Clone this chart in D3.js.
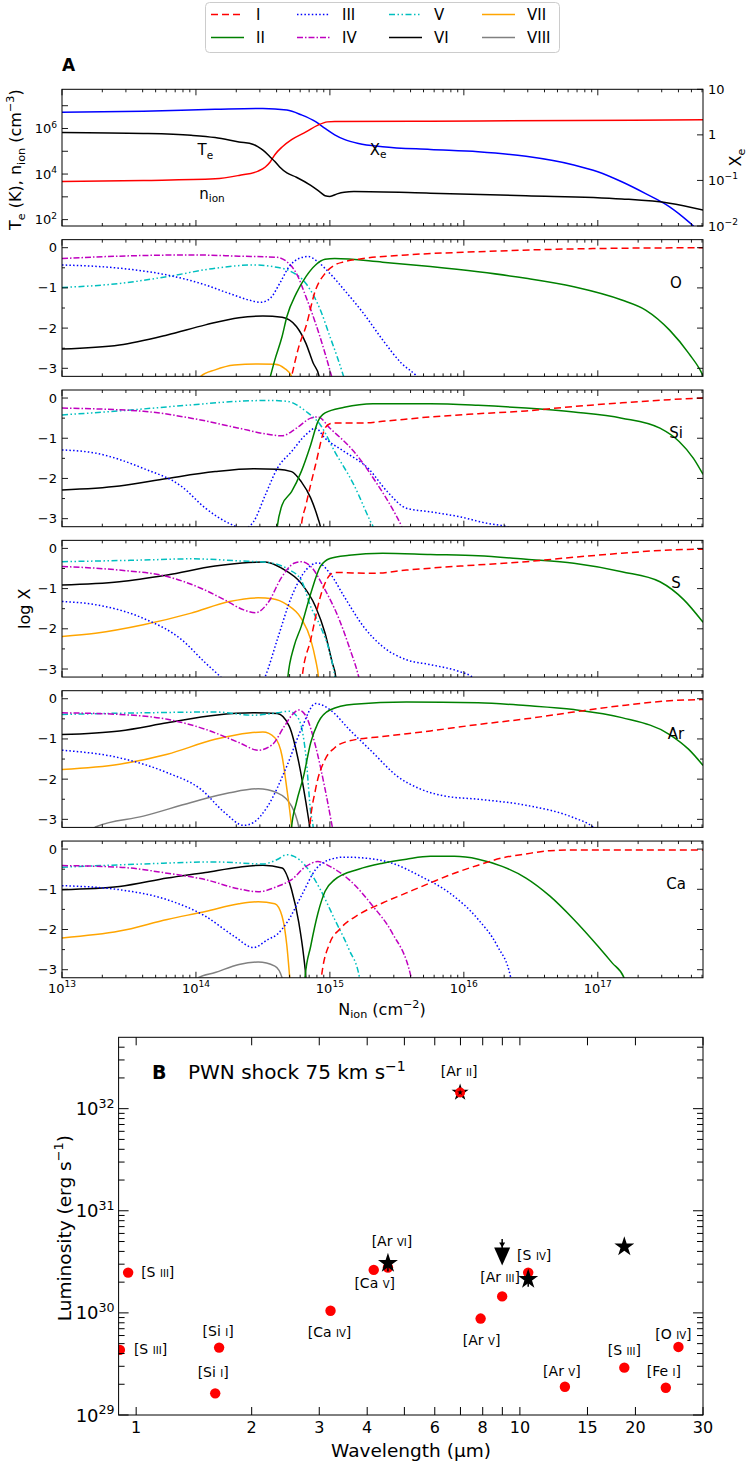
<!DOCTYPE html>
<html><head><meta charset="utf-8">
<script src="https://cdn.jsdelivr.net/npm/d3@7"></script>
<style>body{margin:0;background:#fff}svg{display:block}</style>
</head><body>
<svg id="c" width="748" height="1465"></svg>
<script>
// ================= DATA =================
// Panel A : [log10 N_ion (cm^-2), log10 value]
const A_Te = [[13.0,5.82],[13.607,5.78],[13.964,5.70],[14.143,5.60],[14.321,5.41],[14.429,5.30],[14.464,5.19],[14.5,5.05],[14.554,4.75],[14.589,4.55],[14.625,4.31],[14.679,4.05],[14.75,3.86],[14.857,3.50],[14.929,3.20],[14.964,3.05],[15.0,3.02],[15.054,3.13],[15.107,3.20],[15.179,3.23],[15.75,3.16],[16.464,3.05],[17.179,2.91],[17.536,2.72],[17.786,2.42]];
const A_nion = [[13.0,3.67],[13.607,3.72],[14.143,3.79],[14.321,3.94],[14.464,4.13],[14.518,4.31],[14.554,4.53],[14.589,4.85],[14.643,5.19],[14.714,5.51],[14.821,5.85],[14.911,6.15],[14.982,6.29],[15.036,6.31],[15.75,6.32],[16.821,6.35],[17.786,6.38]];
const A_Xe = [[13.0,0.495],[13.607,0.52],[14.143,0.56],[14.5,0.58],[14.679,0.545],[14.786,0.44],[14.893,0.29],[14.964,0.14],[15.036,0.0],[15.107,-0.10],[15.214,-0.19],[15.393,-0.26],[15.75,-0.32],[16.107,-0.37],[16.464,-0.47],[16.821,-0.66],[17.0,-0.81],[17.179,-1.03],[17.357,-1.29],[17.536,-1.58],[17.679,-1.91],[17.75,-2.1]];

// Ionisation fractions: [log10 N_ion, log10 X]
const O_I = [[14.70,-3.4],[14.714,-3.2],[14.768,-2.46],[14.821,-1.96],[14.893,-1.05],[14.964,-0.64],[15.036,-0.43],[15.107,-0.35],[15.25,-0.27],[15.571,-0.18],[16.107,-0.10],[16.821,-0.03],[17.786,0.0]];
const O_II = [[14.54,-3.4],[14.589,-2.79],[14.643,-2.21],[14.679,-1.71],[14.75,-1.13],[14.821,-0.72],[14.893,-0.43],[14.964,-0.29],[15.036,-0.27],[15.393,-0.36],[15.75,-0.47],[16.107,-0.60],[16.464,-0.76],[16.821,-0.97],[17.179,-1.30],[17.357,-1.55],[17.536,-2.05],[17.679,-2.63],[17.779,-3.14],[17.8,-3.3]];
const O_III = [[13.0,-0.43],[13.429,-0.51],[13.786,-0.68],[14.036,-0.89],[14.25,-1.14],[14.393,-1.30],[14.482,-1.36],[14.554,-1.26],[14.625,-0.89],[14.696,-0.47],[14.768,-0.27],[14.839,-0.22],[14.893,-0.31],[15.0,-0.64],[15.107,-1.05],[15.25,-1.63],[15.393,-2.29],[15.536,-2.88],[15.643,-3.18],[15.7,-3.4]];
const O_IV = [[13.0,-0.27],[13.429,-0.21],[13.964,-0.18],[14.321,-0.21],[14.607,-0.24],[14.679,-0.35],[14.75,-0.64],[14.821,-1.22],[14.893,-1.88],[14.964,-2.63],[15.011,-3.18],[15.03,-3.4]];
const O_V = [[13.0,-0.99],[13.429,-0.89],[13.786,-0.72],[14.143,-0.51],[14.429,-0.43],[14.571,-0.47],[14.714,-0.60],[14.821,-0.89],[14.929,-1.55],[15.0,-2.21],[15.054,-2.71],[15.1,-3.18],[15.12,-3.4]];
const O_VI = [[13.0,-2.52],[13.429,-2.42],[13.786,-2.17],[14.071,-1.92],[14.321,-1.74],[14.5,-1.70],[14.643,-1.73],[14.75,-1.96],[14.821,-2.38],[14.875,-2.87],[14.918,-3.18],[14.93,-3.4]];
const O_VII = [[14.0,-3.4],[14.036,-3.2],[14.143,-3.04],[14.286,-2.92],[14.464,-2.89],[14.589,-2.90],[14.661,-3.0],[14.714,-3.2],[14.73,-3.4]];

const Si_I = [[14.78,-3.4],[14.786,-3.2],[14.821,-2.66],[14.893,-1.66],[14.964,-0.75],[15.0,-0.64],[15.036,-0.62],[15.25,-0.62],[15.393,-0.58],[15.75,-0.47],[16.107,-0.39],[16.464,-0.32],[16.821,-0.21],[17.179,-0.12],[17.536,-0.04],[17.786,0.0]];
const Si_II = [[14.6,-3.4],[14.607,-3.2],[14.643,-2.66],[14.714,-2.33],[14.786,-1.83],[14.857,-1.16],[14.911,-0.58],[14.964,-0.37],[15.107,-0.23],[15.321,-0.14],[15.75,-0.14],[16.107,-0.18],[16.464,-0.25],[16.821,-0.35],[17.179,-0.50],[17.464,-0.75],[17.607,-1.08],[17.714,-1.50],[17.786,-1.90]];
const Si_III = [[13.0,-1.29],[13.25,-1.37],[13.607,-1.75],[13.893,-2.20],[14.071,-2.74],[14.25,-3.12],[14.357,-3.25],[14.429,-3.08],[14.518,-2.41],[14.607,-1.75],[14.714,-1.33],[14.821,-0.91],[14.893,-0.75],[14.964,-1.0],[15.107,-1.33],[15.286,-1.75],[15.429,-2.33],[15.571,-2.74],[15.75,-2.83],[15.964,-2.95],[16.179,-3.12],[16.321,-3.2],[16.4,-3.3]];
const Si_IV = [[13.0,-0.25],[13.607,-0.33],[13.964,-0.50],[14.321,-0.75],[14.536,-0.90],[14.643,-0.94],[14.75,-0.75],[14.857,-0.50],[14.911,-0.47],[15.0,-0.75],[15.179,-1.33],[15.357,-2.16],[15.464,-2.74],[15.536,-3.2],[15.56,-3.4]];
const Si_V = [[13.0,-0.42],[13.429,-0.32],[13.964,-0.17],[14.321,-0.08],[14.536,-0.06],[14.679,-0.08],[14.821,-0.33],[14.929,-0.67],[15.036,-1.33],[15.179,-2.16],[15.304,-3.08],[15.321,-3.2],[15.33,-3.4]];
const Si_VI = [[13.0,-2.29],[13.429,-2.19],[13.786,-2.0],[14.143,-1.83],[14.429,-1.76],[14.607,-1.77],[14.714,-1.83],[14.786,-2.08],[14.857,-2.49],[14.911,-2.99],[14.929,-3.2],[14.94,-3.4]];

const S_I = [[14.79,-3.4],[14.793,-3.2],[14.857,-2.27],[14.929,-1.2],[15.0,-0.66],[15.036,-0.60],[15.321,-0.62],[15.571,-0.54],[16.107,-0.41],[16.464,-0.33],[16.821,-0.22],[17.179,-0.12],[17.536,-0.04],[17.786,-0.02]];
const S_II = [[14.68,-3.4],[14.686,-3.2],[14.732,-2.44],[14.786,-1.94],[14.857,-1.12],[14.929,-0.45],[15.0,-0.25],[15.143,-0.17],[15.393,-0.12],[15.75,-0.15],[16.107,-0.18],[16.464,-0.27],[16.821,-0.37],[17.179,-0.58],[17.464,-0.83],[17.643,-1.28],[17.786,-1.84]];
const S_III = [[13.0,-1.32],[13.25,-1.40],[13.607,-1.74],[13.893,-2.27],[14.071,-2.85],[14.179,-3.18],[14.3,-3.6],[14.45,-3.6],[14.518,-3.18],[14.607,-2.27],[14.714,-1.2],[14.821,-0.54],[14.911,-0.36],[15.0,-0.62],[15.107,-1.2],[15.25,-1.94],[15.393,-2.44],[15.571,-2.77],[15.75,-2.89],[15.964,-3.06],[16.054,-3.18],[16.1,-3.3]];
const S_IV = [[13.0,-0.45],[13.429,-0.54],[13.786,-0.70],[14.036,-0.99],[14.214,-1.28],[14.357,-1.53],[14.446,-1.60],[14.536,-1.36],[14.643,-0.70],[14.732,-0.37],[14.786,-0.33],[14.857,-0.45],[14.964,-1.03],[15.071,-1.78],[15.143,-2.44],[15.214,-3.18],[15.23,-3.4]];
const S_V = [[13.0,-0.33],[13.607,-0.29],[13.964,-0.26],[14.321,-0.31],[14.536,-0.35],[14.679,-0.50],[14.786,-0.79],[14.857,-1.45],[14.929,-1.94],[15.0,-2.60],[15.036,-3.18],[15.045,-3.4]];
const S_VI = [[13.0,-0.91],[13.429,-0.83],[13.786,-0.66],[14.143,-0.44],[14.393,-0.35],[14.518,-0.34],[14.643,-0.50],[14.786,-0.87],[14.893,-1.45],[14.964,-2.11],[15.018,-2.85],[15.043,-3.18],[15.05,-3.4]];
const S_VII = [[13.0,-2.19],[13.25,-2.11],[13.607,-1.90],[13.964,-1.61],[14.25,-1.32],[14.464,-1.23],[14.571,-1.25],[14.679,-1.40],[14.786,-1.74],[14.857,-2.27],[14.893,-2.77],[14.914,-3.18],[14.92,-3.4]];

const Ar_I = [[14.845,-3.4],[14.85,-3.19],[14.893,-2.25],[14.964,-1.51],[15.036,-1.22],[15.143,-1.05],[15.393,-0.94],[15.75,-0.80],[16.107,-0.64],[16.464,-0.50],[16.821,-0.33],[17.179,-0.17],[17.536,-0.05],[17.786,-0.02]];
const Ar_II = [[14.71,-3.4],[14.714,-3.19],[14.75,-2.58],[14.804,-1.92],[14.857,-1.09],[14.911,-0.60],[15.0,-0.28],[15.179,-0.14],[15.571,-0.08],[16.107,-0.10],[16.464,-0.17],[16.821,-0.27],[17.179,-0.47],[17.536,-0.89],[17.679,-1.26],[17.786,-1.66]];
const Ar_III = [[13.0,-1.28],[13.429,-1.47],[13.786,-1.84],[14.036,-2.25],[14.214,-2.83],[14.357,-3.15],[14.429,-3.08],[14.536,-2.67],[14.679,-1.67],[14.786,-0.76],[14.893,-0.12],[15.0,-0.27],[15.143,-0.76],[15.321,-1.34],[15.5,-1.92],[15.679,-2.25],[15.857,-2.42],[16.107,-2.50],[16.464,-2.65],[16.821,-2.96],[16.964,-3.19],[17.0,-3.3]];
const Ar_IV = [[13.0,-0.35],[13.429,-0.39],[13.786,-0.51],[14.071,-0.76],[14.321,-1.09],[14.464,-1.28],[14.571,-1.14],[14.661,-0.68],[14.732,-0.35],[14.768,-0.28],[14.821,-0.43],[14.893,-1.18],[14.964,-2.25],[15.018,-3.19],[15.03,-3.4]];
const Ar_V = [[13.0,-0.39],[13.607,-0.35],[14.143,-0.33],[14.429,-0.41],[14.607,-0.35],[14.696,-0.31],[14.768,-0.51],[14.821,-1.43],[14.857,-2.83],[14.875,-3.19],[14.88,-3.4]];
const Ar_VI = [[13.0,-0.89],[13.429,-0.80],[13.786,-0.60],[14.143,-0.41],[14.429,-0.35],[14.607,-0.37],[14.696,-0.68],[14.768,-1.59],[14.821,-2.58],[14.85,-3.19],[14.86,-3.4]];
const Ar_VII = [[13.0,-1.76],[13.429,-1.63],[13.786,-1.38],[14.143,-1.01],[14.393,-0.85],[14.5,-0.83],[14.589,-0.97],[14.643,-1.43],[14.679,-2.25],[14.714,-3.19],[14.72,-3.4]];
const Ar_VIII = [[13.2,-3.4],[13.25,-3.19],[13.607,-2.92],[13.964,-2.58],[14.25,-2.34],[14.464,-2.24],[14.607,-2.34],[14.714,-2.67],[14.768,-3.19],[14.78,-3.4]];

const Ca_I = [[14.93,-3.4],[14.936,-3.2],[15.0,-2.33],[15.071,-2.0],[15.214,-1.63],[15.393,-1.34],[15.571,-1.09],[15.75,-0.84],[15.929,-0.60],[16.107,-0.40],[16.286,-0.22],[16.464,-0.12],[16.643,-0.04],[16.821,-0.02],[17.786,-0.02]];
const Ca_II = [[14.81,-3.4],[14.814,-3.2],[14.857,-2.41],[14.911,-1.59],[14.964,-1.05],[15.036,-0.76],[15.214,-0.50],[15.393,-0.35],[15.571,-0.25],[15.75,-0.18],[15.929,-0.18],[16.107,-0.25],[16.286,-0.43],[16.464,-0.72],[16.643,-1.17],[16.821,-1.75],[17.0,-2.41],[17.107,-2.83],[17.196,-3.2],[17.21,-3.4]];
const Ca_III = [[13.0,-0.91],[13.429,-1.01],[13.786,-1.26],[14.071,-1.67],[14.286,-2.17],[14.429,-2.45],[14.536,-2.25],[14.607,-2.12],[14.679,-1.83],[14.786,-1.17],[14.893,-0.51],[15.0,-0.26],[15.107,-0.20],[15.25,-0.22],[15.464,-0.35],[15.679,-0.68],[15.893,-1.09],[16.107,-1.75],[16.25,-2.41],[16.35,-3.2],[16.36,-3.4]];
const Ca_IV = [[13.0,-0.41],[13.429,-0.45],[13.786,-0.60],[14.071,-0.76],[14.321,-0.99],[14.464,-1.06],[14.607,-0.93],[14.714,-0.76],[14.821,-0.43],[14.911,-0.31],[15.0,-0.43],[15.143,-0.76],[15.321,-1.42],[15.464,-2.08],[15.607,-3.2],[15.62,-3.4]];
const Ca_V = [[13.0,-0.45],[13.607,-0.37],[14.143,-0.32],[14.5,-0.37],[14.607,-0.26],[14.679,-0.14],[14.732,-0.18],[14.821,-0.43],[14.929,-1.01],[15.036,-1.75],[15.143,-2.50],[15.221,-3.2],[15.23,-3.4]];
const Ca_VI = [[13.0,-1.01],[13.429,-0.93],[13.786,-0.72],[14.071,-0.58],[14.321,-0.45],[14.5,-0.40],[14.643,-0.47],[14.714,-1.01],[14.768,-1.83],[14.804,-2.66],[14.821,-3.2],[14.825,-3.4]];
const Ca_VII = [[13.0,-2.21],[13.429,-2.04],[13.786,-1.75],[14.071,-1.55],[14.321,-1.36],[14.464,-1.31],[14.589,-1.36],[14.643,-1.67],[14.679,-2.41],[14.70,-3.2],[14.705,-3.4]];
const Ca_VIII = [[13.99,-3.4],[14.018,-3.2],[14.143,-3.07],[14.321,-2.87],[14.464,-2.81],[14.589,-2.91],[14.643,-3.2],[14.65,-3.4]];

const ions = ['I','II','III','IV','V','VI','VII','VIII'];
const elements = ['O','Si','S','Ar','Ca'];
const panelData = {
  O:  {I:O_I, II:O_II, III:O_III, IV:O_IV, V:O_V, VI:O_VI, VII:O_VII},
  Si: {I:Si_I, II:Si_II, III:Si_III, IV:Si_IV, V:Si_V, VI:Si_VI},
  S:  {I:S_I, II:S_II, III:S_III, IV:S_IV, V:S_V, VI:S_VI, VII:S_VII},
  Ar: {I:Ar_I, II:Ar_II, III:Ar_III, IV:Ar_IV, V:Ar_V, VI:Ar_VI, VII:Ar_VII, VIII:Ar_VIII},
  Ca: {I:Ca_I, II:Ca_II, III:Ca_III, IV:Ca_IV, V:Ca_V, VI:Ca_VI, VII:Ca_VII, VIII:Ca_VIII}
};
const logXTicks = [0, -1, -2, -3];

// Panel B : wavelength (micron) and luminosity (erg/s)
const modelWave  = [0.907, 0.953, 1.607, 1.645, 3.21, 4.16, 4.53, 7.90, 8.99, 10.51, 13.10, 18.71, 24.0, 25.89];
const modelLum   = [4.34e29, 2.48e30, 1.63e29, 4.57e29, 1.05e30, 2.64e30, 2.78e30, 8.8e29, 1.45e30, 2.48e30, 1.89e29, 2.91e29, 1.85e29, 4.64e29];
const modelLabel = ['[S III]','[S III]','[Si I]','[Si I]','[Ca IV]','[Ca V]','','[Ar V]','[Ar III]','[S IV]','[Ar V]','[S III]','[Fe I]','[O IV]'];
const obsWave  = [4.53, 6.985, 10.51, 18.71];
const obsLum   = [3.07e30, 1.44e32, 2.14e30, 4.44e30];
const obsLo    = [2.55e30, null, 1.80e30, null];
const obsHi    = [3.60e30, null, 2.55e30, null];
const obsLabel = ['[Ar VI]', '[Ar II]', '', ''];
const arIIModelLum = 1.44e32;
const limWave = [8.99];
const limLum  = [3.56e30];
const limTop  = [5.3e30];
const xbTickLabels = [1, 2, 3, 4, 6, 8, 10, 15, 20, 30];
const xbTickNoLabel = [5, 7, 9];

// ================= DRAWING =================
const svg = d3.select('#c');
const FONT = 'DejaVu Sans, Verdana, sans-serif';
const col = {I:'#ff0000', II:'#008000', III:'#0000ff', IV:'#bf00bf', V:'#00bfbf', VI:'#000000', VII:'#ffa500', VIII:'#808080'};
const dash = {I:'7,4', III:'1.5,2.2', IV:'6,2,1.5,2', V:'6,2.5,1.5,2.5,1.5,2.5'};

function rich(g, x, y, parts, o) {
  const size = o.size;
  const t = g.append('text').attr('x', x).attr('y', y)
    .attr('font-family', FONT).attr('font-size', size)
    .attr('text-anchor', o.anchor || 'start').attr('fill', '#000');
  if (o.weight) t.attr('font-weight', o.weight);
  if (o.rotate) t.attr('transform', `rotate(${o.rotate},${x},${y})`);
  let shift = 0;
  parts.forEach(([s, kind]) => {
    let target = 0, fs = size;
    if (kind === 'sup') { target = -size * 0.42; fs = size * 0.7; }
    else if (kind === 'sub') { target = size * 0.22; fs = size * 0.7; }
    else if (kind === 'sc') { fs = size * 0.72; }
    t.append('tspan').attr('font-size', fs).attr('dy', target - shift).text(s);
    shift = target;
  });
  return t;
}
function ln(g, x1, y1, x2, y2, w) {
  g.append('line').attr('x1', x1).attr('y1', y1).attr('x2', x2).attr('y2', y2)
    .attr('stroke', '#000').attr('stroke-width', w || 1);
}

const L = 62, R = 703, TOP0 = 89.3, STEP = 150.35, H = 136.7;
const xDom = [1e13, 6.1e17];
const x = d3.scaleLog().domain(xDom).range([L, R]);

function xTicks(g, top, bottom) {
  for (let e = 13; e <= 17; e++) {
    for (let k = 1; k <= 9; k++) {
      const v = k * Math.pow(10, e);
      if (v > xDom[1]) continue;
      const px = x(v), len = k === 1 ? 6 : 3;
      ln(g, px, bottom, px, bottom - len, 0.9);
      ln(g, px, top, px, top + len, 0.9);
    }
  }
}

// ---------- Legend ----------
const leg = svg.append('g');
leg.append('rect').attr('x', 205.5).attr('y', 2.5).attr('width', 354).attr('height', 50).attr('rx', 4)
  .attr('fill', '#fff').attr('stroke', '#cccccc').attr('stroke-width', 1);
const legCols = [211, 297, 389, 482];
ions.forEach((ion, i) => {
  const cx = legCols[Math.floor(i / 2)], cy = i % 2 === 0 ? 14.5 : 37.5;
  leg.append('line').attr('x1', cx).attr('x2', cx + 33).attr('y1', cy).attr('y2', cy)
    .attr('stroke', col[ion]).attr('stroke-width', 1.6).attr('stroke-dasharray', dash[ion] || null);
  leg.append('text').attr('x', cx + 45).attr('y', cy + 5.5).attr('font-family', FONT).attr('font-size', 15).text(ion);
});

// ---------- Panel A ----------
const gA = svg.append('g');
const aTop = TOP0, aBot = TOP0 + H;
const yA = d3.scaleLog().domain([Math.pow(10, 1.72), Math.pow(10, 7.72)]).range([aBot, aTop]);
const yX = d3.scaleLog().domain([0.01, 10]).range([aBot, aTop]);
gA.append('clipPath').attr('id', 'clipA').append('rect').attr('x', L).attr('y', aTop).attr('width', R - L).attr('height', H);
const lineA = (ys) => d3.line().x(d => x(Math.pow(10, d[0]))).y(d => ys(Math.pow(10, d[1]))).curve(d3.curveMonotoneX);
const gAc = gA.append('g').attr('clip-path', 'url(#clipA)');
gAc.append('path').attr('d', lineA(yX)(A_Xe)).attr('fill', 'none').attr('stroke', '#0000ff').attr('stroke-width', 1.5);
gAc.append('path').attr('d', lineA(yA)(A_nion)).attr('fill', 'none').attr('stroke', '#ff0000').attr('stroke-width', 1.5);
gAc.append('path').attr('d', lineA(yA)(A_Te)).attr('fill', 'none').attr('stroke', '#000').attr('stroke-width', 1.5);
gA.append('rect').attr('x', L).attr('y', aTop).attr('width', R - L).attr('height', H).attr('fill', 'none').attr('stroke', '#000').attr('stroke-width', 1);
xTicks(gA, aTop, aBot);
for (let e = 2; e <= 7; e++) {
  const py = yA(Math.pow(10, e));
  ln(gA, L, py, L + 6, py, 0.9);
  if (e % 2 === 0) rich(gA, L - 5, py + 4.5, [['10'], [String(e), 'sup']], {size: 13, anchor: 'end'});
}
[[-2, [['10'], ['−2', 'sup']]], [-1, [['10'], ['−1', 'sup']]], [0, [['1']]], [1, [['10']]]].forEach(([e, parts]) => {
  const py = yX(Math.pow(10, e));
  ln(gA, R, py, R - 6, py, 0.9);
  rich(gA, R + 5, py + 4.5, parts, {size: 13});
});
rich(gA, 62, 71, [['A']], {size: 17, weight: 'bold'});
rich(gA, 21, aTop + H / 2 + 2, [['T'], ['e', 'sub'], [' (K), n'], ['ion', 'sub'], [' (cm'], ['−3', 'sup'], [')']], {size: 16, anchor: 'middle', rotate: -90});
rich(gA, 741, aTop + H / 2, [['X'], ['e', 'sub']], {size: 16, anchor: 'middle', rotate: -90});
rich(gA, x(Math.pow(10, 14.07)), yA(Math.pow(10, 5.04)) + 5, [['T'], ['e', 'sub']], {size: 15, anchor: 'middle'});
rich(gA, x(Math.pow(10, 14.12)), yA(Math.pow(10, 3.13)) + 5, [['n'], ['ion', 'sub']], {size: 15, anchor: 'middle'});
rich(gA, x(Math.pow(10, 15.36)), yX(Math.pow(10, -0.33)) + 5, [['X'], ['e', 'sub']], {size: 15, anchor: 'middle'});

// ---------- Element panels ----------
elements.forEach((el, i) => {
  const top = TOP0 + STEP * (i + 1), bot = top + H;
  const y = d3.scaleLinear().domain([-3.2, 0.2]).range([bot, top]);
  const g = svg.append('g');
  const cid = 'clip' + el;
  g.append('clipPath').attr('id', cid).append('rect').attr('x', L).attr('y', top).attr('width', R - L).attr('height', H);
  const gc = g.append('g').attr('clip-path', `url(#${cid})`);
  const line = d3.line().x(d => x(Math.pow(10, d[0]))).y(d => y(d[1])).curve(d3.curveMonotoneX);
  const order = ['VIII', 'VII', 'VI', 'V', 'IV', 'III', 'II', 'I'];
  order.forEach(ion => {
    const d = panelData[el][ion];
    if (!d) return;
    gc.append('path').attr('d', line(d)).attr('fill', 'none').attr('stroke', col[ion])
      .attr('stroke-width', 1.5).attr('stroke-dasharray', dash[ion] || null);
  });
  g.append('rect').attr('x', L).attr('y', top).attr('width', R - L).attr('height', H).attr('fill', 'none').attr('stroke', '#000').attr('stroke-width', 1);
  xTicks(g, top, bot);
  [-3, -2.5, -2, -1.5, -1, -0.5, 0].forEach(v => {
    const major = Number.isInteger(v), len = major ? 6 : 3, py = y(v);
    ln(g, L, py, L + len, py, 0.9);
    ln(g, R, py, R - len, py, 0.9);
  });
  logXTicks.forEach(v => {
    rich(g, L - 5, y(v) + 4.5, [[v === 0 ? '0' : '−' + Math.abs(v)]], {size: 13, anchor: 'end'});
  });
  rich(g, 676, top + 48, [[el]], {size: 15, anchor: 'middle'});
  if (i === elements.length - 1) {
    for (let e = 13; e <= 17; e++) rich(g, x(Math.pow(10, e)), bot + 15, [['10'], [String(e), 'sup']], {size: 13, anchor: 'middle'});
    rich(g, 382, bot + 37, [['N'], ['ion', 'sub'], [' (cm'], ['−2', 'sup'], [')']], {size: 16, anchor: 'middle'});
  }
});
rich(svg, 30, (TOP0 + STEP) + (STEP * 4 + H) / 2, [['log X']], {size: 16, anchor: 'middle', rotate: -90});

// ---------- Panel B ----------
const bL = 118.6, bR = 703, bT = 1037.3, bB = 1415;
const xb = d3.scaleLog().domain([0.9, 30]).range([bL, bR]);
const yb = d3.scaleLog().domain([1e29, 5e32]).range([bB, bT]);
const gB = svg.append('g');
gB.append('clipPath').attr('id', 'clipB').append('rect').attr('x', bL).attr('y', bT).attr('width', bR - bL).attr('height', bB - bT);
const gBc = gB.append('g').attr('clip-path', 'url(#clipB)');
gB.append('rect').attr('x', bL).attr('y', bT).attr('width', bR - bL).attr('height', bB - bT).attr('fill', 'none').attr('stroke', '#000').attr('stroke-width', 1);
xbTickLabels.concat(xbTickNoLabel).forEach(v => {
  const px = xb(v);
  ln(gB, px, bB, px, bB - 8, 1);
  ln(gB, px, bT, px, bT + 8, 1);
});
xbTickLabels.forEach(v => rich(gB, xb(v), bB + 18, [[String(v)]], {size: 16, anchor: 'middle'}));
for (let e = 29; e <= 32; e++) {
  for (let k = 1; k <= 9; k++) {
    const v = k * Math.pow(10, e);
    if (v > 5e32) continue;
    const py = yb(v), len = k === 1 ? 10 : 6;
    ln(gB, bL, py, bL + len, py, 1);
    ln(gB, bR, py, bR - len, py, 1);
  }
  rich(gB, bL - 4, yb(Math.pow(10, e)) + 6.5, [['10'], [String(e), 'sup']], {size: 18, anchor: 'end'});
}
rich(gB, 411, 1457, [['Wavelength ('], ['μ'], ['m)']], {size: 18.5, anchor: 'middle'});
rich(gB, 71, (bT + bB) / 2 + 2, [['Luminosity (erg s'], ['−1', 'sup'], [')']], {size: 18.5, anchor: 'middle', rotate: -90});
rich(gB, 152, 1079, [['B']], {size: 19, weight: 'bold'});
rich(gB, 188, 1079, [['PWN shock 75 km s'], ['−1', 'sup']], {size: 20});

function labelParts(s) {
  const m = s.match(/^\[(\S+) (\S+)\]$/);
  return [['[' + m[1] + ' '], [m[2], 'sc'], [']']];
}
const star = (r) => d3.symbol().type(d3.symbolStar).size(r * r / 0.8908130915292852)();
// model dots
modelWave.forEach((w, i) => {
  gBc.append('circle').attr('cx', xb(w)).attr('cy', yb(modelLum[i])).attr('r', 5.2).attr('fill', '#ff0000');
});
// observed stars with errorbars
obsWave.forEach((w, i) => {
  const px = xb(w), py = yb(obsLum[i]);
  if (obsLo[i]) ln(gBc, px, yb(obsLo[i]), px, yb(obsHi[i]), 1.5);
  gBc.append('path').attr('d', star(i === 1 ? 9 : 10.5)).attr('transform', `translate(${px},${py})`).attr('fill', '#000');
});
// [Ar II] model inside star
gBc.append('circle').attr('cx', xb(obsWave[1])).attr('cy', yb(arIIModelLum)).attr('r', 5).attr('fill', '#ff0000');
gBc.append('path').attr('d', star(3)).attr('transform', `translate(${xb(obsWave[1])},${yb(arIIModelLum)})`).attr('fill', '#000');
// upper limit
limWave.forEach((w, i) => {
  const px = xb(w), py = yb(limLum[i]), ty = yb(limTop[i]);
  ln(gBc, px, ty, px, py, 1.5);
  gBc.append('path').attr('d', `M${px - 3},${py - 14}L${px + 3},${py - 14}L${px},${py - 9}Z`).attr('fill', '#000');
  gBc.append('path').attr('d', `M${px - 8},${py - 9}L${px + 8},${py - 9}L${px},${py + 9}Z`).attr('fill', '#000');
});
// labels
const modelLabelOffset = [[14, 4.5, 'start'], [13, 4.5, 'start'], [-2, -16, 'middle'], [-1, -12, 'middle'], [-1, 26, 'middle'], [1, 18, 'middle'], [0, 0, 'middle'],
  [1, 26, 'middle'], [-2, -14, 'middle'], [6, -13, 'middle'], [-3, -11, 'middle'], [0, -13, 'middle'], [-2, -12, 'middle'], [-5, -8, 'middle']];
modelLabel.forEach((s, i) => {
  if (!s) return;
  const o = modelLabelOffset[i];
  rich(gB, xb(modelWave[i]) + o[0], yb(modelLum[i]) + o[1], labelParts(s), {size: 14, anchor: o[2]});
});
const obsLabelOffset = [[4, -17], [-1, -17]];
obsLabel.forEach((s, i) => {
  if (!s) return;
  const o = obsLabelOffset[i];
  rich(gB, xb(obsWave[i]) + o[0], yb(obsLum[i]) + o[1], labelParts(s), {size: 14, anchor: 'middle'});
});
</script>
</body></html>
